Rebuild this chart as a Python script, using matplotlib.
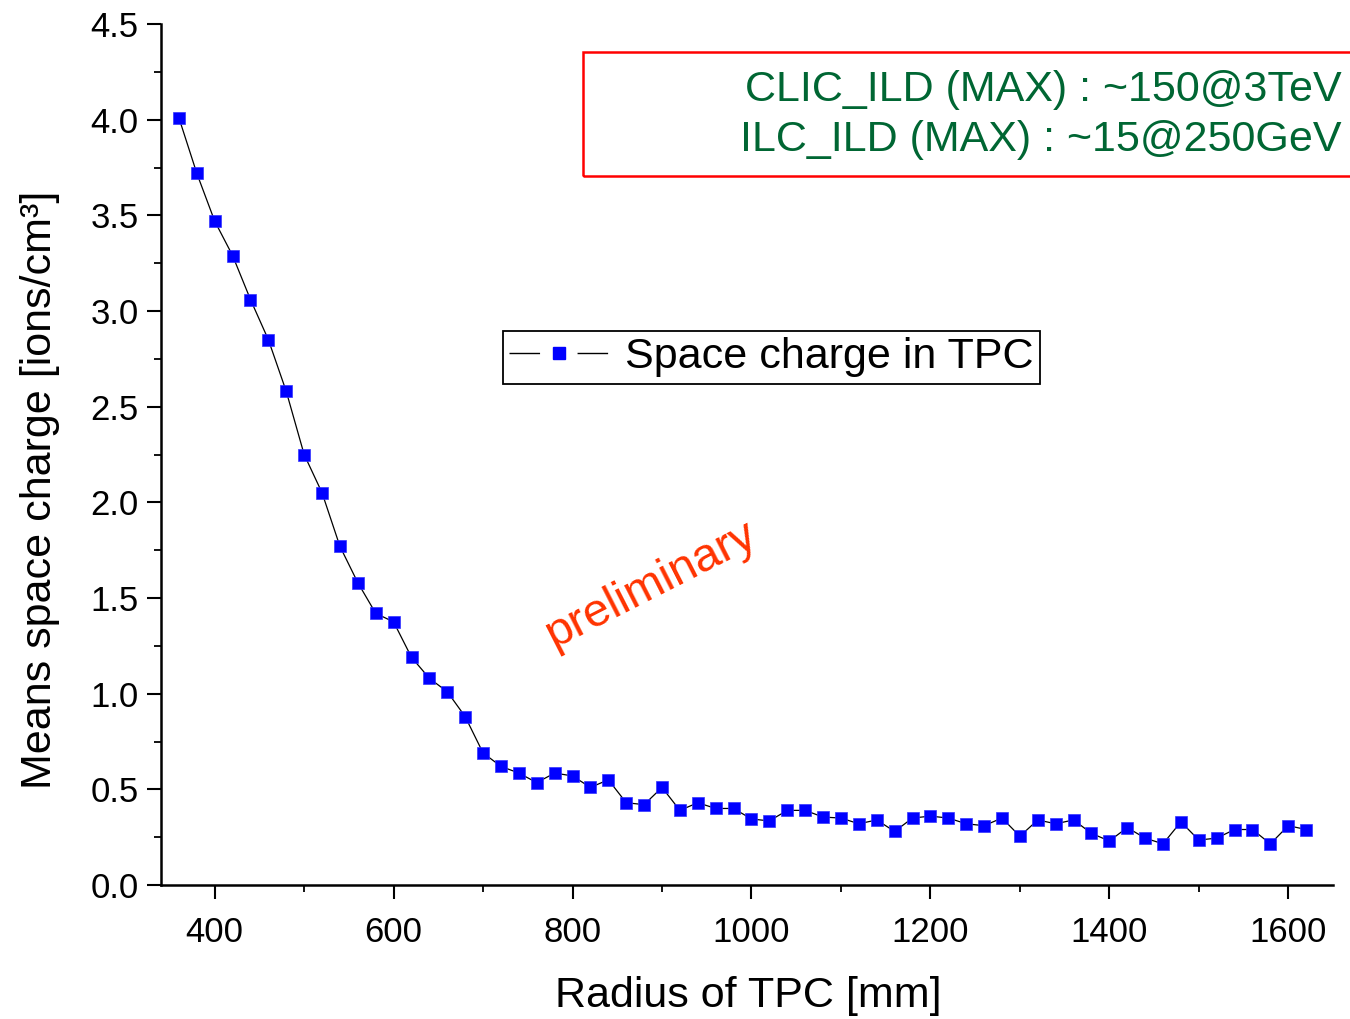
import numpy as np
import matplotlib
matplotlib.use('Agg')
import matplotlib.pyplot as plt
from matplotlib.lines import Line2D
from matplotlib.patches import Rectangle
from matplotlib.ticker import MultipleLocator

plt.rcParams['font.family'] = ['Liberation Sans', 'DejaVu Sans']

# Radius of TPC [mm]
radius = list(range(360, 1621, 20))

# Mean space charge [ions/cm^3]
space_charge = [
    4.01, 3.72, 3.47, 3.29, 3.06, 2.85, 2.58, 2.25, 2.05, 1.77,
    1.58, 1.42, 1.375, 1.19, 1.08, 1.01, 0.88, 0.69, 0.62, 0.585,
    0.535, 0.585, 0.57, 0.51, 0.55, 0.43, 0.42, 0.51, 0.39, 0.43,
    0.40, 0.40, 0.345, 0.335, 0.39, 0.39, 0.355, 0.35, 0.32, 0.34,
    0.28, 0.35, 0.36, 0.35, 0.32, 0.31, 0.35, 0.255, 0.34, 0.32,
    0.34, 0.27, 0.23, 0.30, 0.245, 0.215, 0.33, 0.235, 0.245, 0.29,
    0.29, 0.215, 0.31, 0.29,
]

series_label = 'Space charge in TPC'
note_lines = ['CLIC_ILD (MAX) : ~150@3TeV', 'ILC_ILD (MAX) : ~15@250GeV']

fig = plt.figure(figsize=(13.5, 10.19), dpi=100)
ax = fig.add_axes([161/1350, 1 - 885/1019, (1333 - 161)/1350, (885 - 24)/1019])

ax.plot(radius, space_charge, color='black', lw=0.9, zorder=2)
ax.plot(radius, space_charge, ls='none', marker='s', ms=8.3,
        color='#0000ff', mec='#3333ff', mew=0.5, zorder=3)

ax.set_xlim(340, 1650)
ax.set_ylim(0, 4.5)
ax.xaxis.set_major_locator(MultipleLocator(200))
ax.xaxis.set_minor_locator(MultipleLocator(100))
ax.yaxis.set_major_locator(MultipleLocator(0.5))
ax.yaxis.set_minor_locator(MultipleLocator(0.25))
ax.yaxis.set_major_formatter(matplotlib.ticker.FormatStrFormatter('%.1f'))

for side in ['top', 'right']:
    ax.spines[side].set_visible(False)
for side in ['left', 'bottom']:
    ax.spines[side].set_linewidth(1.8)

ax.tick_params(which='major', direction='out', length=10, width=1.5,
               labelsize=25, pad=6)
ax.tick_params(which='minor', direction='out', length=5, width=1.3)
ax.tick_params(axis='x', which='major', pad=12)

ax.set_xlabel('Radius of TPC [mm]', fontsize=31)
ax.set_ylabel('Means space charge [ions/cm³]', fontsize=31)
ax.xaxis.set_label_coords(0.5009, -0.106)
ax.yaxis.set_label_coords(-0.086, 0.459)

# legend: line - marker - line
h_line = Line2D([], [], color='black', lw=1.0, ls=(0, (22, 27)))
h_mark = Line2D([], [], ls='none', marker='s', ms=8.3, color='#0000ff')
leg = ax.legend([(h_line, h_mark)], [series_label], fontsize=31,
                loc='upper left', bbox_to_anchor=(0.2918, 0.6434),
                borderaxespad=0, borderpad=0.15, handlelength=2.3,
                handletextpad=0.38, fancybox=False, framealpha=1)
leg.get_frame().set_edgecolor('black')
leg.get_frame().set_linewidth(1.3)

fig.text(651/1350, 1 - 585/1019, 'preliminary', color='#ff3300',
         fontsize=34, rotation=27, ha='center', va='center')

# red note box, running off the right edge
fig.patches.append(Rectangle((583/1350, 1 - 176/1019), (1365 - 583)/1350,
                             124/1019, transform=fig.transFigure,
                             fill=False, edgecolor='red', lw=1.8))
fig.text(1342/1350, 1 - 90/1019, note_lines[0], color='#006633',
         fontsize=31, ha='right', va='center')
fig.text(1342/1350, 1 - 140/1019, note_lines[1], color='#006633',
         fontsize=31, ha='right', va='center')

fig.savefig('out.png', dpi=100)
